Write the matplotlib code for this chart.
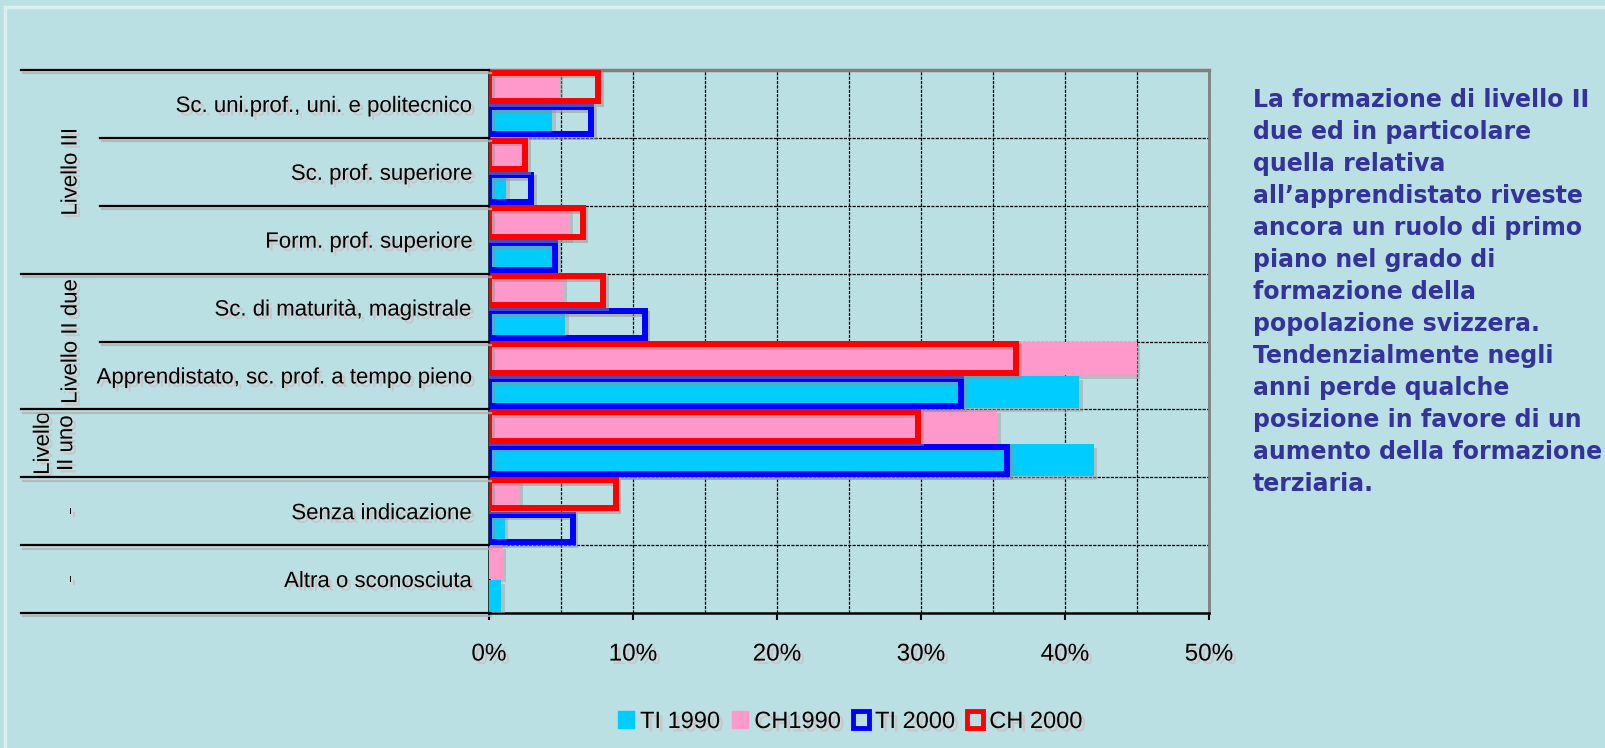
import matplotlib
matplotlib.use("Agg")
import matplotlib.pyplot as plt
import matplotlib.patheffects as pe
import matplotlib.transforms as mtransforms
from matplotlib.patches import Patch
from matplotlib.lines import Line2D
import numpy as np

plt.rcParams['font.family'] = ['Liberation Sans', 'DejaVu Sans']

# data (percent of population)
categories = ["Sc. uni.prof., uni. e politecnico", "Sc. prof. superiore",
              "Form. prof. superiore", "Sc. di maturità, magistrale",
              "Apprendistato, sc. prof. a tempo pieno", "",
              "Senza indicazione", "Altra o sconosciuta"]
group_labels = ["Livello III", "Livello II due", "Livello\nII uno", "-", "-"]
group_sizes = [3, 2, 1, 1, 1]
ti_1990 = [4.4, 1.2, 4.4, 5.3, 41.0, 42.0, 1.1, 0.85]
ch_1990 = [4.9, 2.3, 5.6, 5.2, 45.0, 35.3, 2.1, 0.95]
ti_2000 = [7.1, 2.9, 4.6, 10.8, 32.8, 36.0, 5.8, np.nan]
ch_2000 = [7.6, 2.5, 6.5, 7.9, 36.6, 29.8, 8.8, np.nan]
xticks = [0, 10, 20, 30, 40, 50]

note = ("La formazione di livello II\n"
        "due ed in particolare\n"
        "quella relativa\n"
        "all\u2019apprendistato riveste\n"
        "ancora un ruolo di primo\n"
        "piano nel grado di\n"
        "formazione della\n"
        "popolazione svizzera.\n"
        "Tendenzialmente negli\n"
        "anni perde qualche\n"
        "posizione in favore di un\n"
        "aumento della formazione\n"
        "terziaria.")

BG = '#BBE0E3'
CYAN = '#00CCFF'
PINK = '#FF99CC'
BLUE = '#0000FF'
RED = '#FF0000'

txt_shadow = [pe.withSimplePatchShadow(offset=(2.5, -2.5), shadow_rgbFace='#cdc3c5', alpha=1.0)]
bar_shadow = [pe.withSimplePatchShadow(offset=(2.5, -2.5), shadow_rgbFace='#a0a0a0', alpha=0.5)]
edge_shadow = [pe.SimpleLineShadow(offset=(2, -2), shadow_color='#909090', alpha=0.5), pe.Normal()]
line_shadow = [pe.SimpleLineShadow(offset=(1.5, -2.5), shadow_color='#b0b0b0', alpha=0.8), pe.Normal()]

fig = plt.figure(figsize=(16.05, 7.48), dpi=100, facecolor=BG)
W, H = 1605, 748
ax = fig.add_axes([489 / W, 1 - 613 / H, 720 / W, 543 / H])
ax.set_facecolor(BG)

y = np.arange(len(categories))
ti_1990 = np.array(ti_1990)
ch_1990 = np.array(ch_1990)
ti_2000 = np.array(ti_2000)
ch_2000 = np.array(ch_2000)

ax.barh(y - 0.25, ch_1990, height=0.49, color=PINK, zorder=3, path_effects=bar_shadow)
ax.barh(y + 0.25, ti_1990, height=0.47, color=CYAN, zorder=3, path_effects=bar_shadow)
ok = ~np.isnan(ti_2000)
ax.barh(y[ok] + 0.25, ti_2000[ok], height=0.40, facecolor='none', edgecolor=BLUE,
        linewidth=4.3, zorder=4, path_effects=edge_shadow)
ok = ~np.isnan(ch_2000)
ax.barh(y[ok] - 0.25, ch_2000[ok], height=0.42, facecolor='none', edgecolor=RED,
        linewidth=4.3, zorder=5, path_effects=edge_shadow)

ax.set_xlim(0, 50)
ax.set_ylim(len(categories) - 0.5, -0.5)

ax.set_xticks(xticks)
ax.set_xticklabels([f"{v}%" for v in xticks], fontsize=17.5)
ax.set_xticks(np.arange(5, 50, 5), minor=True)
ax.set_yticks(y)
ax.set_yticklabels(categories, fontsize=16)
ax.set_yticks(np.arange(0.5, len(categories) - 0.5, 1), minor=True)
ax.tick_params(axis='y', which='both', length=0, pad=12)
ax.tick_params(axis='x', which='major', length=5, width=1.5, pad=17, direction='out')
ax.tick_params(axis='x', which='minor', length=0)
for lab in ax.get_xticklabels() + ax.get_yticklabels():
    lab.set_path_effects(txt_shadow)

ax.grid(True, which='both', axis='x', color='black', linestyle=(0, (2.5, 1)), linewidth=0.9, zorder=1)
ax.grid(True, which='minor', axis='y', color='black', linestyle=(0, (2.5, 1)), linewidth=0.9, zorder=1)
ax.set_axisbelow(True)

ax.spines['left'].set_linewidth(1.8)
ax.spines['bottom'].set_linewidth(1.8)
ax.spines['top'].set_color('#808080')
ax.spines['top'].set_linestyle((0, (2, 1)))
ax.spines['top'].set_linewidth(2.5)
ax.spines['right'].set_color('#808080')
ax.spines['right'].set_linewidth(2)

# category separator lines in the label area
trans = mtransforms.blended_transform_factory(ax.transAxes, ax.transData)
x_outer = (21 - 489) / 720
x_inner = (100 - 489) / 720
bounds = np.cumsum([0] + group_sizes) - 0.5
for b in np.arange(-0.5, len(categories), 1):
    x0 = x_outer if b in bounds else x_inner
    ax.plot([x0, 0], [b, b], transform=trans, color='black', lw=1.6,
            clip_on=False, zorder=6, path_effects=line_shadow)

# group labels
for lab, start, size in zip(group_labels, bounds[:-1], group_sizes):
    xc = (55 - 489) / 720 if '\n' in lab else (71 - 489) / 720
    ax.text(xc, start + size / 2, lab, transform=trans, rotation=90, ha='center',
            va='center', fontsize=16, multialignment='center', linespacing=1.15,
            path_effects=txt_shadow)

# legend
handles = [Patch(facecolor=CYAN, edgecolor=CYAN, label='TI 1990'),
           Patch(facecolor=PINK, edgecolor=PINK, label='CH1990'),
           Patch(facecolor='none', edgecolor=BLUE, linewidth=3.5, label='TI 2000'),
           Patch(facecolor='none', edgecolor=RED, linewidth=3.5, label='CH 2000')]
leg = fig.legend(handles=handles, loc='center', bbox_to_anchor=(850 / W, 1 - 722 / H),
                 ncol=4, frameon=False, fontsize=17, handlelength=0.7, handleheight=0.7,
                 handletextpad=0.25, columnspacing=0.5, borderaxespad=0)
for t in leg.get_texts():
    t.set_path_effects(txt_shadow)

# side note
fig.text(1253 / W, 1 - 88 / H, note, ha='left', va='top', fontsize=17, fontweight='bold',
         color='#333399', linespacing=1.42, family='DejaVu Sans')

# light slide frame
fig.add_artist(Line2D([5 / W, 1], [1 - 7 / H, 1 - 7 / H], color='#DCEFF0', lw=2.5))
fig.add_artist(Line2D([5 / W, 5 / W], [0, 1 - 7 / H], color='#DCEFF0', lw=2.5))

fig.savefig('out.png', dpi=100, facecolor=BG)
